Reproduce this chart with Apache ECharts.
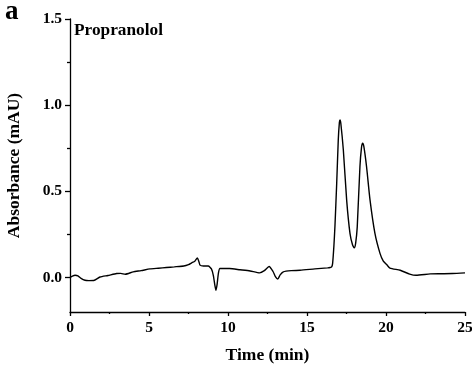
<!DOCTYPE html>
<html>
<head>
<meta charset="utf-8">
<script src="https://cdn.jsdelivr.net/npm/echarts@6/dist/echarts.min.js"></script>
<style>html,body{margin:0;padding:0;background:#fff}#c{width:472px;height:366px}</style>
</head>
<body>
<div id="c"></div>
<script>
var panelLabel = 'a';
var compoundName = 'Propranolol';
var xTitle = 'Time (min)';
var yTitle = 'Absorbance (mAU)';
var yLabelValues = [0, 0.5, 1.0, 1.5];
var yMinorValues = [0.25, 0.75, 1.25];
var time = [0.0,0.15,0.32,0.5,0.7,0.95,1.2,1.5,1.9,2.4,2.95,3.2,3.5,4.0,4.5,5.06,5.6,6.1,6.6,7.2,7.5,7.7,7.9,8.06,8.15,8.23,8.44,8.75,8.95,9.07,9.17,9.24,9.31,9.39,9.49,10.1,10.76,11.4,12.0,12.3,12.6,12.85,13.0,13.15,13.3,13.5,14.0,14.56,15.5,16.3,16.46,16.56,16.62,16.7,16.77,16.88,16.98,17.05,17.09,17.14,17.3,17.51,17.72,17.88,17.99,18.08,18.18,18.35,18.45,18.52,18.6,18.77,18.99,19.3,19.62,19.83,20.04,20.25,20.9,21.5,21.9,22.8,23.5,24.2,25.0];
var absorbance = [0.000,0.008,0.013,0.010,-0.005,-0.016,-0.018,-0.017,0.003,0.012,0.023,0.024,0.019,0.033,0.040,0.050,0.054,0.058,0.062,0.067,0.075,0.085,0.095,0.114,0.095,0.072,0.067,0.067,0.050,0.013,-0.045,-0.074,-0.040,0.023,0.052,0.052,0.045,0.038,0.027,0.040,0.064,0.035,0.005,-0.009,0.015,0.033,0.040,0.042,0.050,0.056,0.058,0.062,0.081,0.18,0.30,0.547,0.80,0.900,0.915,0.895,0.740,0.449,0.256,0.19,0.172,0.20,0.294,0.643,0.755,0.779,0.760,0.643,0.449,0.256,0.140,0.095,0.075,0.055,0.042,0.020,0.013,0.021,0.022,0.023,0.027];

var FONT = "'Liberation Serif', 'Times New Roman', serif";
var data = time.map(function (t, i) { return [t, absorbance[i]]; });
var chart = echarts.init(document.getElementById('c'));
chart.setOption({
  animation: false,
  backgroundColor: '#fff',
  graphic: [
    { type: 'text', x: 5, y: 12, style: { text: panelLabel, fontFamily: FONT, fontWeight: 'bold', fontSize: 27, fill: '#000', verticalAlign: 'middle' } },
    { type: 'text', x: 74, y: 31, style: { text: compoundName, fontFamily: FONT, fontWeight: 'bold', fontSize: 17.3, fill: '#000', verticalAlign: 'middle' } }
  ],
  grid: { left: 70, right: 7, top: 19, bottom: 54, outerBoundsMode: 'none', containLabel: false },
  xAxis: {
    type: 'value', min: 0, max: 25, interval: 5,
    name: xTitle, nameLocation: 'middle', nameGap: 34,
    nameTextStyle: { fontFamily: FONT, fontWeight: 'bold', fontSize: 17.5, color: '#000' },
    axisLine: { show: true, onZero: false, lineStyle: { color: '#000', width: 1.3 } },
    axisTick: { show: true, inside: false, length: 4, lineStyle: { color: '#000', width: 1.3 } },
    minorTick: { show: true, splitNumber: 2, length: 2, lineStyle: { color: '#000', width: 1.3 } },
    axisLabel: { margin: 8, fontFamily: FONT, fontWeight: 'bold', fontSize: 15.5, color: '#000' },
    splitLine: { show: false }
  },
  yAxis: [{
    type: 'value', min: -0.2, max: 1.5,
    name: yTitle, nameLocation: 'middle', nameGap: 47,
    nameTextStyle: { fontFamily: FONT, fontWeight: 'bold', fontSize: 17.5, color: '#000' },
    axisLine: { show: true, onZero: false, lineStyle: { color: '#000', width: 1.3 } },
    axisTick: { show: true, inside: false, length: 5, customValues: yLabelValues, lineStyle: { color: '#000', width: 1.3 } },
    axisLabel: { margin: 8, customValues: yLabelValues, fontFamily: FONT, fontWeight: 'bold', fontSize: 15.5, color: '#000',
      formatter: function (v) { return v.toFixed(1); } },
    splitLine: { show: false }
  }, {
    type: 'value', min: -0.2, max: 1.5, position: 'left',
    axisLine: { show: false },
    axisTick: { show: true, inside: false, length: 3, customValues: yMinorValues, lineStyle: { color: '#000', width: 1.3 } },
    axisLabel: { show: false },
    splitLine: { show: false }
  }],
  series: [{
    type: 'line', data: data, yAxisIndex: 0, showSymbol: false, symbol: 'none', smooth: 0.2,
    lineStyle: { color: '#000', width: 1.4 }
  }]
});
</script>
</body>
</html>
